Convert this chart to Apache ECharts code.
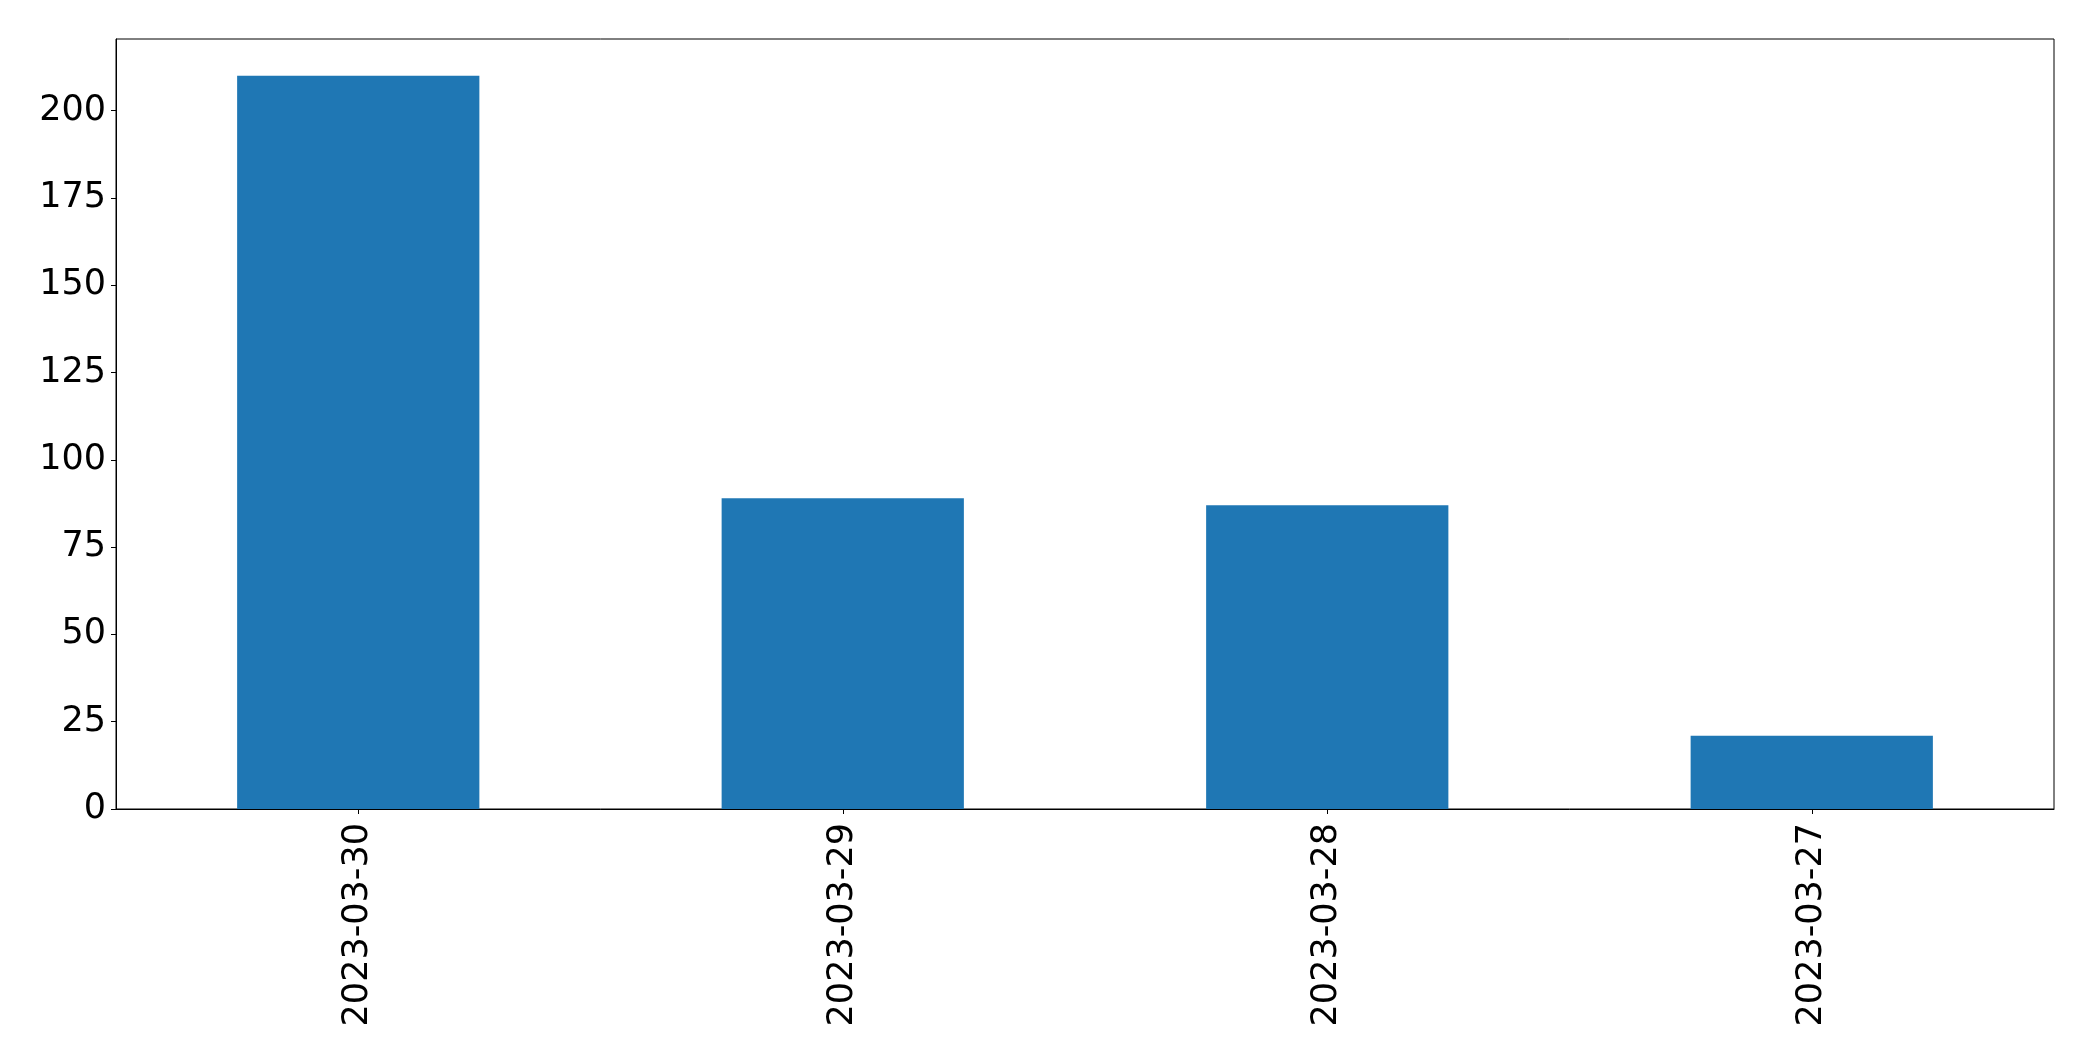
<!DOCTYPE html>
<html>
<head>
<meta charset="utf-8">
<script src="https://cdn.jsdelivr.net/npm/echarts@6/dist/echarts.min.js"></script>
<style>
html,body{margin:0;padding:0;background:#fff;}
#chart{width:2093px;height:1061px;}
</style>
</head>
<body>
<div id="chart"></div>
<script>
const categories = ['2023-03-30', '2023-03-29', '2023-03-28', '2023-03-27'];
const values = [210, 89, 87, 21];
const yTicks = [0, 25, 50, 75, 100, 125, 150, 175, 200];

const chart = echarts.init(document.getElementById('chart'), null, {renderer: 'canvas'});
const font = 'DejaVu Sans';
chart.setOption({
  animation: false,
  backgroundColor: '#ffffff',
  grid: {
    left: 116, right: 39, top: 39, bottom: 252,
    show: true, borderColor: '#000', borderWidth: 1, backgroundColor: 'transparent'
  },
  xAxis: {
    type: 'category',
    data: categories,
    boundaryGap: true,
    axisLine: {show: true, lineStyle: {color: '#000', width: 1}},
    axisTick: {show: true, alignWithLabel: true, length: 5, lineStyle: {color: '#000', width: 1}},
    axisLabel: {rotate: 90, interval: 0, margin: 14, color: '#000', fontFamily: font, fontSize: 35},
    splitLine: {show: false}
  },
  yAxis: {
    type: 'value',
    min: 0, max: 220.5, interval: 25,
    axisLine: {show: true, lineStyle: {color: '#000', width: 1}},
    axisTick: {show: true, length: 5, customValues: yTicks, lineStyle: {color: '#000', width: 1}},
    axisLabel: {margin: 10, color: '#000', fontFamily: font, fontSize: 35, customValues: yTicks},
    splitLine: {show: false}
  },
  series: [{
    type: 'bar',
    data: values,
    barWidth: '50%',
    itemStyle: {color: '#1f77b4'}
  }]
});
</script>
</body>
</html>
